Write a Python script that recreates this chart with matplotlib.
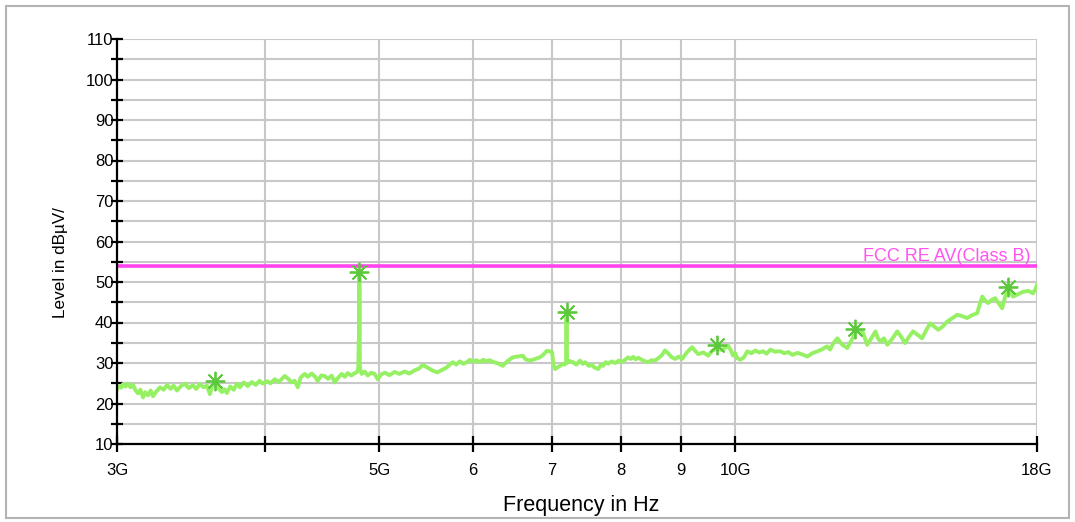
import matplotlib
matplotlib.use("Agg")
import matplotlib.pyplot as plt
from matplotlib.patches import Rectangle

plt.rcParams['font.family'] = ['Liberation Sans', 'DejaVu Sans']

# measured trace, frequency in GHz, level in dBuV
freq_ghz = [
    3.000, 3.012, 3.024, 3.035, 3.050, 3.065, 3.080, 3.095, 3.110, 3.125,
    3.140, 3.156, 3.170, 3.187, 3.203, 3.218, 3.240, 3.262, 3.285, 3.307,
    3.330, 3.350, 3.372, 3.398, 3.425, 3.450, 3.478, 3.500, 3.526, 3.550,
    3.574, 3.595, 3.612, 3.630, 3.650, 3.680, 3.700, 3.716, 3.740, 3.766,
    3.790, 3.811, 3.840, 3.870, 3.900, 3.931, 3.960, 3.985, 4.016,
    4.045, 4.079, 4.110, 4.159, 4.190, 4.216, 4.240, 4.266, 4.290, 4.324,
    4.350, 4.383, 4.410, 4.435, 4.465, 4.495, 4.525, 4.557, 4.584, 4.615,
    4.647, 4.675, 4.701, 4.735, 4.766, 4.790, 4.800, 4.804, 4.808, 4.810,
    4.812, 4.818, 4.831, 4.860, 4.888, 4.920, 4.955, 4.984, 5.020, 5.053,
    5.100, 5.152, 5.200, 5.253, 5.300, 5.357, 5.400, 5.441, 5.490, 5.548,
    5.600, 5.625, 5.660, 5.702, 5.735, 5.769, 5.810, 5.848, 5.890, 5.929,
    5.965, 6.000, 6.040, 6.080, 6.120, 6.164, 6.200, 6.236, 6.300, 6.359,
    6.420, 6.484, 6.548, 6.612, 6.650, 6.703, 6.760, 6.835, 6.880, 6.929,
    6.965, 7.000, 7.020, 7.042, 7.080, 7.110, 7.150, 7.175, 7.195, 7.200,
    7.205, 7.240, 7.292, 7.340, 7.392, 7.430, 7.466, 7.520, 7.568, 7.600,
    7.657, 7.700, 7.732, 7.770, 7.807, 7.860, 7.915, 7.970, 8.023, 8.070,
    8.118, 8.160, 8.197, 8.240, 8.278, 8.360, 8.440, 8.500, 8.556, 8.610,
    8.673, 8.720, 8.775, 8.830, 8.896, 8.960, 9.018, 9.100, 9.196, 9.250,
    9.304, 9.400, 9.487, 9.560, 9.650, 9.750, 9.864, 9.920, 9.960, 10.00,
    10.04, 10.10, 10.17, 10.24, 10.32, 10.40, 10.48, 10.56, 10.63, 10.71,
    10.80, 10.92, 11.00, 11.09, 11.18, 11.29, 11.40, 11.51, 11.62, 11.74,
    11.85, 11.96, 12.03, 12.10, 12.20, 12.32, 12.44, 12.52, 12.59, 12.62,
    12.70, 12.83, 12.93, 13.03, 13.14, 13.20, 13.27, 13.36, 13.45, 13.58,
    13.71, 13.82, 13.92, 14.03, 14.14, 14.26, 14.39, 14.50, 14.62, 14.75,
    14.85, 14.98, 15.11, 15.25, 15.41, 15.55, 15.71, 15.86, 16.02, 16.10,
    16.18, 16.28, 16.37, 16.48, 16.59, 16.70, 16.82, 16.92, 17.00, 17.08,
    17.18, 17.35, 17.52, 17.70, 17.86, 17.95, 18.00,
]
level_dbuv = [
    23.5, 24.3, 23.9, 24.8, 24.2, 24.9, 24.0, 24.6, 23.3, 22.5,
    23.4, 21.5, 22.8, 22.0, 23.2, 21.8, 23.0, 24.0, 23.4, 24.6,
    23.6, 24.4, 23.2, 24.3, 24.9, 23.8, 24.5, 23.6, 24.8, 24.0,
    24.4, 22.3, 24.5, 25.0, 24.0, 22.8, 23.5, 22.6, 24.2, 23.4,
    24.9, 24.0, 25.2, 24.3, 25.3, 24.6, 25.6, 24.9, 25.5,
    25.0, 26.0, 25.3, 26.8, 26.0, 25.2, 25.6, 24.0, 26.4, 27.3,
    26.6, 27.4, 26.7, 25.6, 26.9, 26.8, 26.1, 26.9, 25.2, 26.4,
    27.3, 26.6, 27.5, 26.9, 27.5, 27.8, 29.0, 35.5, 31.0, 52.5,
    30.0, 28.5, 27.3, 27.9, 26.9, 27.6, 27.3, 26.0, 27.2, 27.6,
    27.0, 27.8, 27.3, 27.9, 27.4, 28.2, 28.6, 29.5, 28.9, 28.1,
    27.7, 28.0, 28.4, 28.9, 29.6, 30.2, 29.6, 30.4, 29.8, 30.2,
    30.8, 30.3, 30.7, 30.2, 30.8, 30.4, 30.7, 30.3, 29.9, 29.3,
    30.5, 31.4, 31.6, 31.8, 30.9, 30.6, 30.9, 31.4, 32.0, 33.0,
    32.9, 32.7, 29.5, 28.5, 29.0, 29.3, 29.8, 29.6, 30.2, 42.6,
    30.0, 30.5, 30.2, 29.6, 30.6, 29.8, 30.2, 29.3, 29.5, 28.9,
    28.5, 29.6, 29.3, 30.2, 29.8, 30.4, 30.0, 30.6, 30.2, 30.8,
    31.4, 31.0, 31.5, 30.9, 31.3, 30.6, 30.2, 30.7, 30.6, 31.2,
    32.0, 33.1, 32.4, 31.5, 31.0, 31.6, 31.0, 32.6, 33.9, 33.0,
    32.2, 32.6, 31.8, 33.0, 33.6, 33.2, 34.3, 33.0, 31.8, 32.4,
    31.2, 30.8, 31.4, 32.9, 32.4, 33.1, 32.6, 32.9, 32.3, 33.3,
    32.8, 32.9, 32.4, 32.7, 32.0, 32.5, 32.1, 31.6, 32.4, 32.9,
    33.4, 34.1, 33.3, 34.8, 36.1, 34.5, 33.7, 35.2, 36.5, 37.5,
    37.8, 37.4, 34.5, 36.0, 37.8, 36.2, 35.3, 36.1, 34.5, 36.0,
    37.8, 36.4, 34.9, 36.5, 37.8, 37.0, 36.1, 38.0, 39.8, 38.9,
    38.2, 39.0, 40.2, 41.0, 41.9, 41.6, 41.1, 41.8, 42.3, 44.5,
    46.4, 45.3, 44.8, 45.6, 46.0, 44.8, 43.5, 46.5, 48.4, 47.8,
    46.4, 47.0, 47.6, 47.8, 47.2, 48.3, 49.3,
]

# peak markers
peak_ghz = [3.63, 4.81, 7.20, 9.65, 12.62, 17.00]
peak_dbuv = [25.6, 52.5, 42.6, 34.5, 38.4, 48.8]

limit_level = 54.0
limit_name = "FCC RE AV(Class B)"

xtick_ghz = [3, 4, 5, 6, 7, 8, 9, 10, 18]
xtick_labels = ["3G", "", "5G", "6", "7", "8", "9", "10G", "18G"]


def main():
    fig = plt.figure(figsize=(10.75, 5.22), dpi=100)
    ax = fig.add_axes([117 / 1075, 1 - 444 / 522, 920 / 1075, 405 / 522])

    fig.patches.append(Rectangle((6 / 1075, 4 / 522), 1063 / 1075, 512 / 522,
                                 transform=fig.transFigure, fill=False,
                                 edgecolor="#b4b4b4", linewidth=1.5))

    ax.set_xscale("log")
    ax.set_xlim(3, 18)
    ax.set_ylim(10, 110)

    ax.set_xticks(xtick_ghz)
    ax.set_xticklabels(xtick_labels)
    ax.xaxis.set_minor_locator(matplotlib.ticker.NullLocator())
    ax.set_yticks(range(10, 111, 10))
    ax.set_yticks(range(15, 110, 10), minor=True)

    ax.grid(True, which="both", axis="y", color="#c8c8c8", linewidth=1.5)
    ax.grid(True, which="major", axis="x", color="#c8c8c8", linewidth=1.5)
    ax.set_axisbelow(True)

    for side in ("top", "right"):
        ax.spines[side].set_visible(False)
    for side in ("left", "bottom"):
        ax.spines[side].set_linewidth(1.6)
        ax.spines[side].set_zorder(5)

    ax.tick_params(axis="y", which="both", direction="inout", length=9,
                   width=1.6, pad=-2, labelsize=12)
    ax.tick_params(axis="x", which="major", direction="inout", length=11,
                   width=1.6, pad=8, labelsize=12)

    ax.axhline(limit_level, color="#ff44ee", linewidth=2.6, zorder=3)
    ax.text(17.77, limit_level + 0.3, limit_name, color="#ff55ee",
            fontsize=13, ha="right", va="bottom")

    ax.plot(freq_ghz, level_dbuv, color="#444444", linewidth=0.8, zorder=4)
    ax.plot(freq_ghz, level_dbuv, color="#96f064", linewidth=2.8, zorder=4)
    ax.plot(peak_ghz, peak_dbuv, linestyle="none", marker=(8, 2, 0),
            markersize=14, markeredgewidth=1.3, color="#5cc83c", zorder=6)

    fig.text(60 / 1075, 1 - 263 / 522, "Level in dBµV/", rotation=90,
             ha="center", va="center", fontsize=12.3)
    fig.text(581 / 1075, 1 - 505 / 522, "Frequency in Hz",
             ha="center", va="center", fontsize=15.5)

    fig.savefig("out.png", dpi=100)


if __name__ == "__main__":
    main()
